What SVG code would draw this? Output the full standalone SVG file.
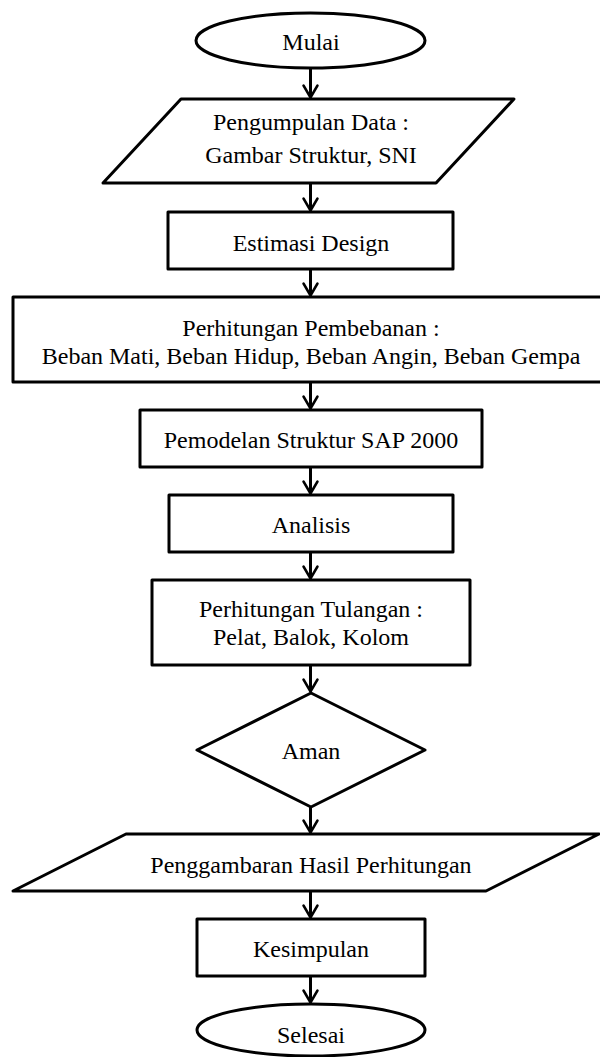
<svg xmlns="http://www.w3.org/2000/svg" width="600" height="1057" viewBox="0 0 600 1057">
<style>
.s{fill:#fff;stroke:#000;stroke-width:3;stroke-linejoin:round}
.t{font-family:"Liberation Serif","Times New Roman",serif;font-size:24px;fill:#000;text-anchor:middle}
.c{fill:none;stroke:#000;stroke-width:3}
</style>
<defs>
<marker id="ah" markerUnits="userSpaceOnUse" orient="auto" refX="0" refY="0" markerWidth="30" markerHeight="30" overflow="visible">
<path d="M-12,-7 L0,0 L-12,7" fill="none" stroke="#000" stroke-width="2.5" stroke-linecap="round" stroke-linejoin="round"/>
</marker>
</defs>
<rect width="600" height="1057" fill="#fff"/>
<g id="connectors">
<line class="c" x1="310.5" y1="68" x2="310.5" y2="97.5" marker-end="url(#ah)"/>
<line class="c" x1="310.5" y1="183" x2="310.5" y2="210.5" marker-end="url(#ah)"/>
<line class="c" x1="310.5" y1="269" x2="310.5" y2="295.5" marker-end="url(#ah)"/>
<line class="c" x1="310.5" y1="382" x2="310.5" y2="408.5" marker-end="url(#ah)"/>
<line class="c" x1="310.5" y1="467" x2="310.5" y2="493.5" marker-end="url(#ah)"/>
<line class="c" x1="310.5" y1="552" x2="310.5" y2="578.5" marker-end="url(#ah)"/>
<line class="c" x1="310.5" y1="665" x2="310.5" y2="691.5" marker-end="url(#ah)"/>
<line class="c" x1="310.5" y1="807" x2="310.5" y2="832.5" marker-end="url(#ah)"/>
<line class="c" x1="310.5" y1="891" x2="310.5" y2="917.5" marker-end="url(#ah)"/>
<line class="c" x1="310.5" y1="976" x2="310.5" y2="1002.5" marker-end="url(#ah)"/>
</g>
<g id="mulai">
<ellipse class="s" cx="310.5" cy="40.5" rx="114.5" ry="27.5"/>
<text class="t" x="311" y="50">Mulai</text>
</g>
<g id="pengumpulan-data">
<polygon class="s" points="181,99 514,99 436,183 103,183"/>
<text class="t" x="311" y="130">Pengumpulan Data :</text>
<text class="t" x="311" y="163">Gambar Struktur, SNI</text>
</g>
<g id="estimasi-design">
<rect class="s" x="168" y="212" width="285" height="57"/>
<text class="t" x="311" y="251">Estimasi Design</text>
</g>
<g id="perhitungan-pembebanan">
<rect class="s" x="13" y="297" width="597" height="85"/>
<text class="t" x="311" y="336">Perhitungan Pembebanan :</text>
<text class="t" x="311" y="364">Beban Mati, Beban Hidup, Beban Angin, Beban Gempa</text>
</g>
<g id="pemodelan">
<rect class="s" x="140" y="410" width="342" height="57"/>
<text class="t" x="311" y="448">Pemodelan Struktur SAP 2000</text>
</g>
<g id="analisis">
<rect class="s" x="169" y="495" width="284" height="57"/>
<text class="t" x="311" y="533">Analisis</text>
</g>
<g id="perhitungan-tulangan">
<rect class="s" x="152" y="580" width="318" height="85"/>
<text class="t" x="311" y="617">Perhitungan Tulangan :</text>
<text class="t" x="311" y="645">Pelat, Balok, Kolom</text>
</g>
<g id="aman">
<polygon class="s" points="311,693 425,750 311,807 197,750"/>
<text class="t" x="311" y="759">Aman</text>
</g>
<g id="penggambaran">
<polygon class="s" points="126,834 599,834 486,891 13,891"/>
<text class="t" x="311" y="873">Penggambaran Hasil Perhitungan</text>
</g>
<g id="kesimpulan">
<rect class="s" x="197" y="919" width="228" height="57"/>
<text class="t" x="311" y="957">Kesimpulan</text>
</g>
<g id="selesai">
<ellipse class="s" cx="311" cy="1030" rx="114" ry="26"/>
<text class="t" x="311" y="1043">Selesai</text>
</g>
</svg>
